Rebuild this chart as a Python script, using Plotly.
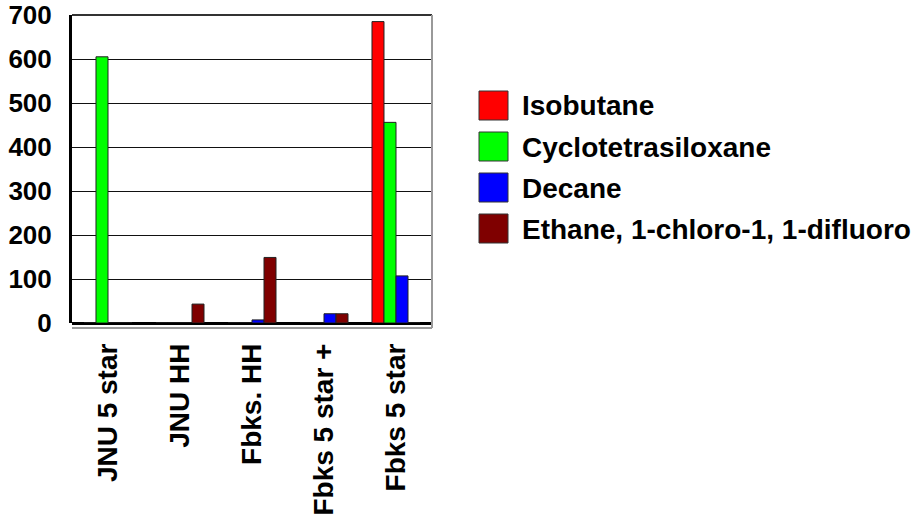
import plotly.graph_objects as go

# Sampling sites (x categories)
sites = ["JNU 5 star", "JNU HH", "Fbks. HH", "Fbks 5 star +", "Fbks 5 star"]

# Compound concentrations per site
isobutane = [0, 0, 0, 0, 685]
cyclotetrasiloxane = [605, 0, 0, 0, 456]
decane = [0, 0, 7, 21, 107]
ethane_cfc = [0, 43, 149, 21, 0]

series_names = ["Isobutane", "Cyclotetrasiloxane", "Decane",
                "Ethane, 1-chloro-1, 1-difluoro"]
series_values = [isobutane, cyclotetrasiloxane, decane, ethane_cfc]
series_colors = ["#FF0000", "#00FF00", "#0000FF", "#7F0000"]

y_ticks = [0, 100, 200, 300, 400, 500, 600, 700]

FONT = "Liberation Sans, Arial, sans-serif"

fig = go.Figure()
for name, vals, col in zip(series_names, series_values, series_colors):
    fig.add_trace(go.Bar(
        x=sites, y=vals, name=name,
        marker=dict(color=col, line=dict(color="#222222", width=1)),
        showlegend=False,
    ))

# Legend drawn as swatches + labels
leg_x0, leg_y0, leg_dy = 479, 91, 41
W, H = 913, 525
PX0, PX1, PY0, PY1 = 72, 432, 15, 323  # plot area in pixels


def px(x):
    return (x - PX0) / (PX1 - PX0)


def py(y):
    return (PY1 - y) / (PY1 - PY0)


shapes = []
annotations = []
for i, (name, col) in enumerate(zip(series_names, series_colors)):
    top = leg_y0 + i * leg_dy
    shapes.append(dict(
        type="rect", xref="paper", yref="paper",
        x0=px(leg_x0), x1=px(leg_x0 + 29),
        y0=py(top), y1=py(top + 29),
        fillcolor=col, line=dict(color="#333333", width=1),
    ))
    annotations.append(dict(
        text=name, xref="paper", yref="paper",
        x=px(520), y=py(top + 15),
        xanchor="left", yanchor="middle", showarrow=False,
        font=dict(family=FONT, size=28, color="black", weight="bold"),
    ))

# Plot frame: dark top, gray right, gray floor line
shapes += [
    dict(type="line", xref="paper", yref="paper", x0=0, x1=1, y0=1, y1=1,
         line=dict(color="#333333", width=2)),
    dict(type="line", xref="paper", yref="paper", x0=1, x1=1, y0=py(328), y1=1,
         line=dict(color="#999999", width=2)),
    dict(type="line", xref="paper", yref="paper", x0=0, x1=1, y0=py(328), y1=py(328),
         line=dict(color="#999999", width=2)),
]

fig.update_layout(
    width=W, height=H,
    margin=dict(l=PX0, r=W - PX1, t=PY0, b=H - PY1, autoexpand=False),
    plot_bgcolor="white", paper_bgcolor="white",
    barmode="group", bargap=0.333, bargroupgap=0,
    shapes=shapes, annotations=annotations,
    font=dict(family=FONT, color="black"),
)
fig.update_xaxes(
    tickangle=-90, showgrid=False, showline=False, automargin=False,
    tickfont=dict(family=FONT, size=28, color="black", weight="bold"),
    ticklabelstandoff=14,
)
fig.update_yaxes(
    range=[0, 700], tickvals=y_ticks, ticktext=[str(v) for v in y_ticks],
    showgrid=True, gridcolor="#111111", gridwidth=1, automargin=False,
    zeroline=True, zerolinecolor="black", zerolinewidth=3,
    showline=True, linecolor="black", linewidth=3,
    tickfont=dict(family=FONT, size=26, color="black", weight="bold"),
    ticklabelstandoff=12,
)

fig.write_html("out.html")
